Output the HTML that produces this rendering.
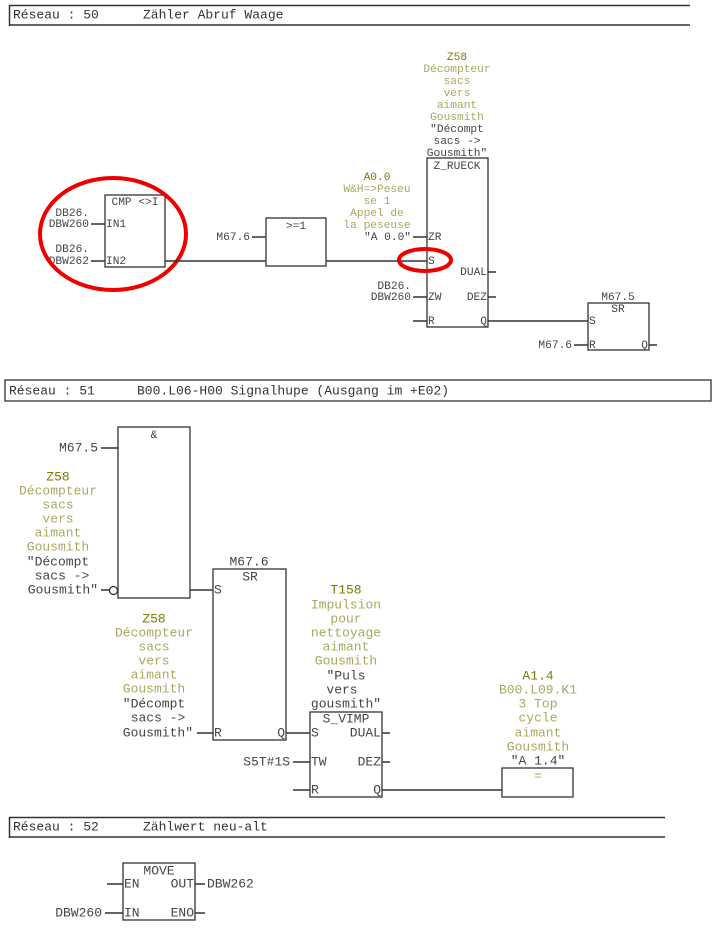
<!DOCTYPE html>
<html><head><meta charset="utf-8"><style>
html,body{margin:0;padding:0;background:#fff;}
svg{display:block;}
text{font-family:"Liberation Mono",monospace;fill:#444;dominant-baseline:middle;}
.s{font-size:11.2px;}
.m{font-size:13px;}
.h{font-size:13px;fill:#333;}
.a{fill:#7a7a00;}
.d{fill:#a8a860;}
.c{text-anchor:middle;}
.r{text-anchor:end;}
line,rect,path{stroke:#333;fill:none;}
line{stroke-width:1.5;}
rect{stroke-width:1.3;}
</style></head><body>
<svg width="724" height="940" viewBox="0 0 724 940" xmlns="http://www.w3.org/2000/svg">
<!-- Header 50 -->
<line x1="9" y1="5.5" x2="690" y2="5.5"/>
<line x1="9" y1="25" x2="690" y2="25" stroke-width="2"/>
<line x1="9.5" y1="5" x2="9.5" y2="26" stroke-width="2"/>
<text class="h" x="13" y="15">Réseau : 50</text>
<text class="h" x="143" y="15">Zähler Abruf Waage</text>

<!-- CMP -->
<rect x="105" y="195" width="60" height="72"/>
<text class="s c" x="135" y="202">CMP &lt;&gt;I</text>
<text class="s r" x="89" y="213">DB26.</text>
<text class="s r" x="89" y="224">DBW260</text>
<text class="s r" x="89" y="249">DB26.</text>
<text class="s r" x="89" y="261">DBW262</text>
<line x1="91" y1="224" x2="105" y2="224"/>
<line x1="91" y1="261" x2="105" y2="261"/>
<text class="s" x="106" y="224">IN1</text>
<text class="s" x="106" y="261">IN2</text>
<ellipse cx="113" cy="234" rx="73" ry="56" stroke="#e00" stroke-width="4" fill="none"/>
<line x1="165" y1="261" x2="266" y2="261"/>
<!-- >=1 -->
<rect x="266" y="218" width="60" height="48"/>
<text class="s c" x="296" y="226">&gt;=1</text>
<text class="s r" x="250" y="237">M67.6</text>
<line x1="252" y1="237" x2="266" y2="237"/>
<line x1="326" y1="261" x2="427" y2="261"/>
<!-- Z_RUECK -->
<text class="s c a" x="457" y="57">Z58</text>
<text class="s c d" x="457" y="69">Décompteur</text>
<text class="s c d" x="457" y="81">sacs</text>
<text class="s c d" x="457" y="93">vers</text>
<text class="s c d" x="457" y="105">aimant</text>
<text class="s c d" x="457" y="117">Gousmith</text>
<text class="s c" x="457" y="129">"Décompt</text>
<text class="s c" x="457" y="141">sacs -&gt;</text>
<text class="s c" x="457" y="153">Gousmith"</text>
<rect x="427" y="158" width="61" height="169"/>
<text class="s c" x="457" y="166">Z_RUECK</text>
<text class="s c a" x="377" y="177">A0.0</text>
<text class="s c d" x="377" y="189">W&amp;H=&gt;Peseu</text>
<text class="s c d" x="377" y="201">se 1</text>
<text class="s c d" x="377" y="213">Appel de</text>
<text class="s c d" x="377" y="225">la peseuse</text>
<text class="s r" x="411" y="237">"A 0.0"</text>
<line x1="413" y1="237" x2="427" y2="237"/>
<text class="s" x="428" y="237">ZR</text>
<text class="s" x="428" y="261">S</text>
<ellipse cx="425" cy="260" rx="26" ry="11" stroke="#e00" stroke-width="4" fill="none"/>
<text class="s r" x="487" y="272">DUAL</text>
<line x1="488" y1="272" x2="496" y2="272"/>
<text class="s r" x="411" y="286">DB26.</text>
<text class="s r" x="411" y="297">DBW260</text>
<line x1="413" y1="297" x2="427" y2="297"/>
<text class="s" x="428" y="297">ZW</text>
<text class="s r" x="487" y="297">DEZ</text>
<line x1="488" y1="297" x2="496" y2="297"/>
<line x1="413" y1="321" x2="427" y2="321"/>
<text class="s" x="428" y="321">R</text>
<text class="s r" x="487" y="321">Q</text>
<line x1="488" y1="321" x2="588" y2="321"/>
<!-- SR M67.5 -->
<text class="s c" x="618" y="297">M67.5</text>
<rect x="588" y="303" width="61" height="47"/>
<text class="s c" x="618" y="309">SR</text>
<text class="s" x="589" y="321">S</text>
<text class="s r" x="572" y="345">M67.6</text>
<line x1="574" y1="345" x2="588" y2="345"/>
<text class="s" x="589" y="345">R</text>
<text class="s r" x="648" y="345">Q</text>
<line x1="649" y1="345" x2="657" y2="345"/>

<!-- Header 51 -->
<rect x="5" y="380" width="706" height="21" stroke-width="1.5"/>
<text class="h" x="9" y="391">Réseau : 51</text>
<text class="h" x="137" y="391">B00.L06-H00 Signalhupe (Ausgang im +E02)</text>

<!-- & -->
<rect x="118" y="427" width="72" height="171"/>
<text class="s c" x="154" y="435">&amp;</text>
<text class="m r" x="98" y="448">M67.5</text>
<line x1="101" y1="448" x2="118" y2="448"/>
<text class="m c a" x="58" y="477">Z58</text>
<text class="m c d" x="58" y="491">Décompteur</text>
<text class="m c d" x="58" y="505">sacs</text>
<text class="m c d" x="58" y="519">vers</text>
<text class="m c d" x="58" y="533">aimant</text>
<text class="m c d" x="58" y="547">Gousmith</text>
<text class="m c" x="58" y="562">"Décompt</text>
<text class="m c" x="62" y="576">sacs -&gt;</text>
<text class="m r" x="98" y="590">Gousmith"</text>
<line x1="101" y1="590" x2="109" y2="590"/>
<circle cx="113.5" cy="590.5" r="4" stroke="#333" stroke-width="1.3" fill="#fff"/>
<line x1="190" y1="590" x2="213" y2="590"/>
<!-- SR M67.6 -->
<text class="m c" x="249" y="562">M67.6</text>
<rect x="213" y="569" width="73" height="171"/>
<text class="m c" x="250" y="577">SR</text>
<text class="m" x="214" y="590">S</text>
<text class="m c a" x="154" y="619">Z58</text>
<text class="m c d" x="154" y="633">Décompteur</text>
<text class="m c d" x="154" y="647">sacs</text>
<text class="m c d" x="154" y="661">vers</text>
<text class="m c d" x="154" y="675">aimant</text>
<text class="m c d" x="154" y="689">Gousmith</text>
<text class="m c" x="154" y="704">"Décompt</text>
<text class="m c" x="158" y="718">sacs -&gt;</text>
<text class="m r" x="193" y="733">Gousmith"</text>
<line x1="197" y1="733" x2="213" y2="733"/>
<text class="m" x="214" y="733">R</text>
<text class="m r" x="285" y="733">Q</text>
<line x1="286" y1="733" x2="310" y2="733"/>
<!-- S_VIMP -->
<text class="m c a" x="346" y="590">T158</text>
<text class="m c d" x="346" y="605">Impulsion</text>
<text class="m c d" x="346" y="619">pour</text>
<text class="m c d" x="346" y="633">nettoyage</text>
<text class="m c d" x="346" y="647">aimant</text>
<text class="m c d" x="346" y="661">Gousmith</text>
<text class="m c" x="346" y="676">"Puls</text>
<text class="m c" x="342" y="690">vers</text>
<text class="m c" x="346" y="704">gousmith"</text>
<rect x="310" y="712" width="72" height="85"/>
<text class="m c" x="346" y="719">S_VIMP</text>
<text class="m" x="311" y="733">S</text>
<text class="m r" x="381" y="733">DUAL</text>
<line x1="382" y1="733" x2="390" y2="733"/>
<text class="m r" x="290" y="762">S5T#1S</text>
<line x1="293" y1="762" x2="310" y2="762"/>
<text class="m" x="311" y="762">TW</text>
<text class="m r" x="381" y="762">DEZ</text>
<line x1="382" y1="762" x2="390" y2="762"/>
<line x1="293" y1="790" x2="310" y2="790"/>
<text class="m" x="311" y="790">R</text>
<text class="m r" x="381" y="790">Q</text>
<line x1="382" y1="790" x2="502" y2="790"/>
<!-- = -->
<text class="m c a" x="538" y="676">A1.4</text>
<text class="m c d" x="538" y="690">B00.L09.K1</text>
<text class="m c d" x="538" y="704">3 Top</text>
<text class="m c d" x="538" y="718">cycle</text>
<text class="m c d" x="538" y="733">aimant</text>
<text class="m c d" x="538" y="747">Gousmith</text>
<text class="m c" x="538" y="761">"A 1.4"</text>
<rect x="502" y="768" width="71" height="29"/>
<text class="m c d" x="538" y="776">=</text>

<!-- Header 52 -->
<line x1="9" y1="817.5" x2="665" y2="817.5"/>
<line x1="9" y1="837" x2="665" y2="837" stroke-width="2"/>
<line x1="9.5" y1="817" x2="9.5" y2="838" stroke-width="2"/>
<text class="h" x="13" y="827">Réseau : 52</text>
<text class="h" x="143" y="827">Zählwert neu-alt</text>

<!-- MOVE -->
<rect x="123" y="863" width="72" height="57"/>
<text class="m c" x="159" y="871">MOVE</text>
<line x1="107" y1="884" x2="123" y2="884"/>
<text class="m" x="124" y="884">EN</text>
<text class="m r" x="194" y="884">OUT</text>
<line x1="195" y1="884" x2="205" y2="884"/>
<text class="m" x="207" y="884">DBW262</text>
<text class="m r" x="102" y="913">DBW260</text>
<line x1="105" y1="913" x2="123" y2="913"/>
<text class="m" x="124" y="913">IN</text>
<text class="m r" x="194" y="913">ENO</text>
<line x1="195" y1="913" x2="205" y2="913"/>
</svg>
</body></html>
